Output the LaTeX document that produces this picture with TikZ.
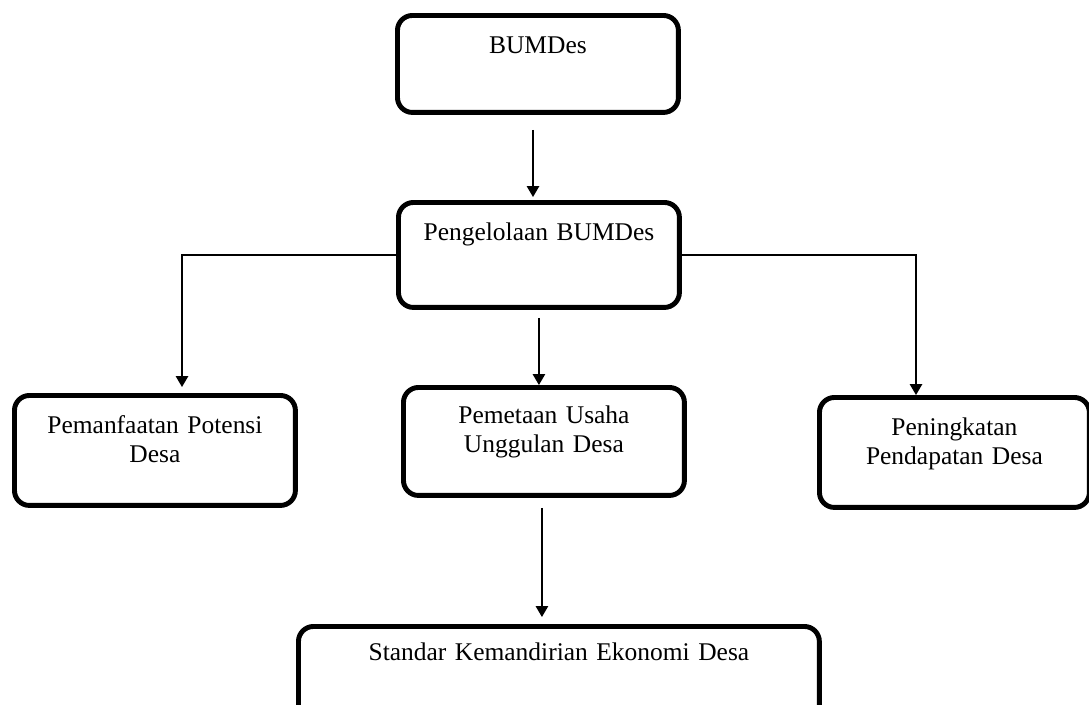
\documentclass[tikz,border=0pt]{standalone}
\usepackage{fontspec}
\setmainfont{Liberation Serif}
\usetikzlibrary{arrows.meta,positioning}

\begin{document}
\begin{tikzpicture}[x=0.02cm,y=-0.02cm,
    kotak/.style={draw,line width=2.8pt,rounded corners=0.3cm,anchor=north west,inner sep=0pt,align=center,font=\fontsize{14.5}{16.5}\selectfont},
    panah/.style={-{Triangle[width=0.25cm,length=0.22cm]},line width=0.8pt}]
    \useasboundingbox (0,0) rectangle (1089,704);

    \node[kotak,text width=5.62cm,text height=0.76cm,text depth=1.18cm] (bumdes) at (395,13) {BUMDes};
    \node[kotak,text width=5.62cm,text height=0.76cm,text depth=1.34cm] (kelola) at (396,200) {Pengelolaan BUMDes};
    \node[kotak,text width=5.62cm,text height=0.76cm,text depth=1.44cm] (manfaat) at (12,393) {Pemanfaatan Potensi\\Desa};
    \node[kotak,text width=5.62cm,text height=0.72cm,text depth=1.44cm] (petakan) at (401,385) {Pemetaan Usaha\\Unggulan Desa};
    \node[kotak,text width=5.40cm,text height=0.76cm,text depth=1.44cm] (tingkat) at (817,395) {Peningkatan\\Pendapatan Desa};
    \node[kotak,text width=10.42cm,text height=0.68cm,text depth=2.0cm] (standar) at (296,624) {Standar Kemandirian Ekonomi Desa};

    \coordinate (tengah) at (533,0);
    \coordinate (kiri) at (182,254);
    \coordinate (kanan) at (916,254);

    \draw[panah,shorten <=0.3cm,shorten >=0.06cm] (bumdes.south -| tengah) -- (kelola.north -| tengah);
    \draw[panah,shorten <=0.16cm] (kelola.south) -- (kelola.south |- petakan.north);
    \draw[panah,shorten >=0.12cm] (kelola.west) -| (manfaat.north -| kiri);
    \draw[panah] (kelola.east) -| (tingkat.north -| kanan);
    \draw[panah,shorten <=0.2cm,shorten >=0.14cm] ([xshift=-0.04cm]petakan.south) -- ([xshift=-0.04cm]petakan.south |- standar.north);
\end{tikzpicture}
\end{document}
